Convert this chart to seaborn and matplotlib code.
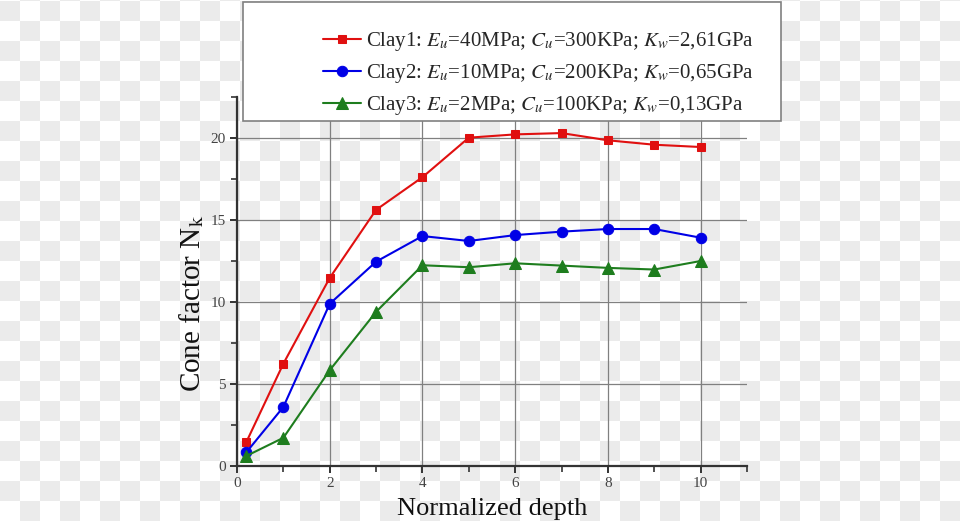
import numpy as np
import pandas as pd
import matplotlib
matplotlib.use('Agg')
import matplotlib.pyplot as plt
from matplotlib.patches import Rectangle
from matplotlib.ticker import MultipleLocator
import seaborn as sns

# data
depth = [0.2, 1, 2, 3, 4, 5, 6, 7, 8, 9, 10]
clay1 = [1.45, 6.24, 11.47, 15.62, 17.61, 20.02, 20.22, 20.30, 19.86, 19.59, 19.45]
clay2 = [0.83, 3.60, 9.89, 12.46, 14.02, 13.72, 14.08, 14.29, 14.45, 14.45, 13.92]
clay3 = [0.61, 1.72, 5.84, 9.40, 12.24, 12.12, 12.36, 12.22, 12.08, 11.98, 12.50]
labels = [
    r'Clay1: $E_u$=40MPa; $C_u$=300KPa; $K_w$=2,61GPa',
    r'Clay2: $E_u$=10MPa; $C_u$=200KPa; $K_w$=0,65GPa',
    r'Clay3: $E_u$=2MPa; $C_u$=100KPa; $K_w$=0,13GPa',
]
colors = ['#e01010', '#0000e6', '#1e7d1e']
markers = ['s', 'o', '^']
msizes = [6, 7.5, 8]

sns.set_theme(style='ticks')
plt.rcParams['font.family'] = ['Liberation Serif', 'DejaVu Serif']
plt.rcParams['mathtext.fontset'] = 'stix'

fig = plt.figure(figsize=(9.6, 5.21), dpi=100)

# checkerboard "transparent" backdrop
H, W = 521, 960
yy, xx = np.mgrid[0:H, 0:W]
board = ((xx // 20 + yy // 20) % 2)[::-1]
img = np.where(board[..., None] == 1, 0.925, 1.0) * np.ones((H, W, 3))
fig.patch.set_facecolor('white')
fig.figimage(img, xo=0, yo=0, zorder=-10)

ax = fig.add_axes([237 / 960, 1 - 466 / 521, 510 / 960, 369 / 521])
ax.set_facecolor('none')

for ys, lab, c, m, ms in zip([clay1, clay2, clay3], labels, colors, markers, msizes):
    df = pd.DataFrame({'depth': depth, 'nk': ys})
    sns.lineplot(data=df, x='depth', y='nk', ax=ax, color=c, marker=m,
                 markersize=ms, markeredgecolor=c, linewidth=1.5, label=lab)

ax.set_xlim(0, 11)
ax.set_ylim(0, 22.5)
ax.xaxis.set_major_locator(MultipleLocator(2))
ax.xaxis.set_minor_locator(MultipleLocator(1))
ax.yaxis.set_major_locator(MultipleLocator(5))
ax.yaxis.set_minor_locator(MultipleLocator(2.5))
ax.grid(True, which='major', color='#808080', linewidth=0.9)
ax.set_axisbelow(True)
for s in ['top', 'right']:
    ax.spines[s].set_visible(False)
for s in ['left', 'bottom']:
    ax.spines[s].set_color('#333333')
    ax.spines[s].set_linewidth(1.6)
ax.tick_params(which='major', length=5, width=1.4, color='#333333',
               labelsize=11, labelcolor='#444444', pad=3)
ax.tick_params(which='minor', length=4, width=1.2, color='#333333')

ax.set_xlabel('')
ax.set_ylabel('')
fig.text(492 / 960, 6 / 521, 'Normalized depth', fontsize=19, color='#111111',
         ha='center', va='baseline')
fig.text(192 / 960, 1 - 303 / 521, r'Cone factor N$_\mathrm{k}$', fontsize=21,
         color='#111111', rotation=90, ha='center', va='center')

ax.get_legend().remove()
handles, labs = ax.get_legend_handles_labels()

# legend box
fig.patches.append(Rectangle((243 / 960, 1 - 121 / 521), 538 / 960, 119 / 521,
                             transform=fig.transFigure, facecolor='white',
                             edgecolor='#808080', linewidth=1.2, zorder=5))
leg = fig.legend(handles, labs, loc='upper left',
                 bbox_to_anchor=(313 / 960, 1 - 20 / 521), frameon=False,
                 fontsize=15, handlelength=1.8, handletextpad=0.25,
                 labelspacing=0.42, borderpad=0)
leg.set_zorder(6)

fig.savefig('out.png', dpi=100)
